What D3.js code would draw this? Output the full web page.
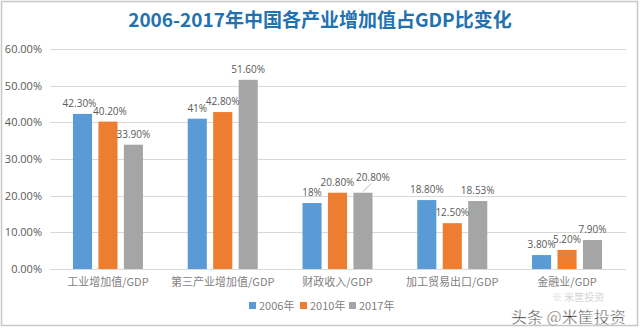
<!DOCTYPE html>
<html><head><meta charset="utf-8">
<script src="https://cdn.jsdelivr.net/npm/d3@7"></script>
<style>body{margin:0;background:#fff}svg{display:block}</style>
</head><body>
<svg id="c" width="640" height="328"></svg>
<script>
const categories = ["工业增加值/GDP","第三产业增加值/GDP","财政收入/GDP","加工贸易出口/GDP","金融业/GDP"];
const seriesNames = ["2006年","2010年","2017年"];
const values2006 = [42.3, 41, 18, 18.8, 3.8];
const values2010 = [40.2, 42.8, 20.8, 12.5, 5.2];
const values2017 = [33.9, 51.6, 20.8, 18.53, 7.9];
const labels2006 = ["42.30%","41%","18%","18.80%","3.80%"];
const labels2010 = ["40.20%","42.80%","20.80%","12.50%","5.20%"];
const labels2017 = ["33.90%","51.60%","20.80%","18.53%","7.90%"];
const yTicks = [0,10,20,30,40,50,60];
const colors = ["#5B9BD5","#ED7D31","#A5A5A5"];

const series = [values2006, values2010, values2017];
const seriesLabels = [labels2006, labels2010, labels2017];

const svg = d3.select("#c");
const margin = {left:50, right:15, top:49, bottom:59};
const W = 640, H = 328;
const x0 = d3.scaleBand().domain(categories).range([margin.left, W - margin.right]).paddingInner(0.39).paddingOuter(0.2);
const x1 = d3.scaleBand().domain([0,1,2]).range([0, x0.bandwidth()]).paddingInner(0.25);
const y = d3.scaleLinear().domain([0,60]).range([H - margin.bottom, margin.top]);

// frame
svg.append("rect").attr("x",1.5).attr("y",1.5).attr("width",W-4).attr("height",H-4)
  .attr("fill","none").attr("stroke","#c8c8c8").attr("stroke-width",1.5);

// title
svg.append("text").attr("x",320).attr("y",27).attr("text-anchor","middle")
  .attr("font-family","'Noto Sans CJK SC','Noto Sans',sans-serif").attr("font-weight","bold")
  .attr("font-size",19).attr("fill","#2272B0").text("2006-2017年中国各产业增加值占GDP比变化");

// gridlines
const gridX1 = 50, gridX2 = 626;
svg.append("g").selectAll("line").data(yTicks).join("line")
  .attr("x1",gridX1).attr("x2",gridX2).attr("y1",d=>Math.round(y(d))+0.5).attr("y2",d=>Math.round(y(d))+0.5)
  .attr("stroke","#d9d9d9").attr("stroke-width",1);

// y axis labels
const yAxis = d3.axisLeft(y).tickValues(yTicks).tickSize(0).tickPadding(0).tickFormat(d=>d.toFixed(2)+"%");
const ya = svg.append("g").attr("transform",`translate(42,0)`).call(yAxis);
ya.select(".domain").remove();
ya.selectAll("text").attr("font-family","'Open Sans','Noto Sans',sans-serif").attr("font-size",11).attr("fill","#595959");

// bars
const g = svg.append("g");
series.forEach((vals, si) => {
  g.append("g").selectAll("rect").data(vals).join("rect")
    .attr("x",(d,i)=>x0(categories[i]) + x1(si))
    .attr("y",d=>y(d))
    .attr("width",x1.bandwidth())
    .attr("height",d=>y(0)-y(d))
    .attr("fill",colors[si]);
});

// data labels
const labelFont = "'Open Sans','Noto Sans',sans-serif";
series.forEach((vals, si) => {
  vals.forEach((v,i) => {
    let cx = x0(categories[i]) + x1(si) + x1.bandwidth()/2;
    let ty = y(v) - 7;
    if (si===2 && i===2) { cx += 10; ty = y(v) - 12; }
    if (si===0 && i===0) { cx -= 3; }
    if (si===1 && i===0) { cx += 2; }
    svg.append("text").attr("x",cx).attr("y",ty).attr("text-anchor","middle")
      .attr("font-family",labelFont).attr("font-size",10).attr("fill","#595959")
      .text(seriesLabels[si][i]);
  });
});
// leader line for shifted label
{
  const bx = x0(categories[2]) + x1(2) + x1.bandwidth()/2;
  svg.append("line").attr("x1",bx).attr("y1",y(values2017[2])-1).attr("x2",bx+8).attr("y2",y(values2017[2])-9)
    .attr("stroke","#a6a6a6").attr("stroke-width",0.8);
}

// x axis category labels
svg.append("g").selectAll("text").data(categories).join("text")
  .attr("x",d=>x0(d)+x0.bandwidth()/2).attr("y",286).attr("text-anchor","middle")
  .attr("font-family","'Noto Sans CJK SC','Noto Sans',sans-serif").attr("font-size",11).attr("fill","#7f7f7f")
  .text(d=>d);

// legend
const legX = [249, 300, 349];
seriesNames.forEach((n,i)=>{
  svg.append("rect").attr("x",legX[i]).attr("y",302).attr("width",7).attr("height",7).attr("fill",colors[i]);
  svg.append("text").attr("x",legX[i]+10).attr("y",310).attr("font-family","'Noto Sans CJK SC','Open Sans',sans-serif")
    .attr("font-size",11).attr("fill","#7f7f7f").text(n);
});

// watermark
svg.append("text").attr("x",552).attr("y",301).attr("font-family","'Noto Sans CJK SC',sans-serif")
  .attr("font-size",10).attr("fill","#d4d4d4").text("※ 米筐投资");
svg.append("text").attr("x",511).attr("y",323).attr("font-family","'Noto Sans CJK SC',sans-serif")
  .attr("font-size",16).attr("fill","#222").attr("stroke","#fff").attr("stroke-width",0.5).text("头条 @米筐投资");
</script>
</body></html>
